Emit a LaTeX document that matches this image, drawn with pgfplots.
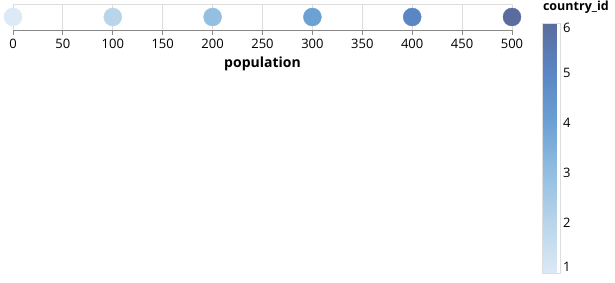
\documentclass[border=0pt]{standalone}
\usepackage{pgfplots}
\pgfplotsset{compat=1.18}
\usepackage{fontspec}
\setmainfont{Open Sans}
\definecolor{gridc}{RGB}{221,221,221}
\definecolor{axisc}{RGB}{136,136,136}
\begin{document}
\begin{tikzpicture}[x=1pt,y=1pt]
\useasboundingbox (0,0) rectangle (615,283);
\begin{axis}[
  at={(13pt,253pt)}, anchor=south west,
  scale only axis, width=499pt, height=26pt,
  xmin=0, xmax=500, ymin=0, ymax=1,
  clip=false,
  axis x line*=bottom, axis y line=none,
  xtick={0,50,...,500}, ytick=\empty,
  xmajorgrids, grid style={gridc, line width=0.8pt},
  axis line style={axisc, line width=0.8pt},
  tick style={axisc, line width=0.8pt},
  tick align=outside, major tick length=5pt,
  /pgf/number format/assume math mode=true,
  tick label style={font=\fontsize{13}{15}\selectfont},
  xticklabel style={yshift=-1pt},
  xlabel={population},
  xlabel style={font=\fontsize{14}{16}\selectfont\bfseries, yshift=-1pt},
  colormap={vegablues}{rgb255(0)=(220,233,246) rgb255(1)=(185,213,234) rgb255(2)=(147,191,225) rgb255(3)=(108,161,212) rgb255(4)=(91,134,196) rgb255(5)=(90,108,158)},
  point meta min=1, point meta max=6,
  colorbar,
  colorbar style={
    at={(parent axis.north east)}, anchor=north west,
    xshift=22pt, yshift=-19pt,
    scale only axis, width=18pt, height=250pt,
    ytick={1,2,3,4,5,6},
    yticklabels={\raisebox{6pt}[\height][\depth]{1},2,3,4,5,\raisebox{-5pt}[\height][\depth]{6}},
    major tick length=0pt,
    axis line style={gridc, line width=0.5pt},
    yticklabel style={font=\fontsize{13}{15}\selectfont, xshift=-1pt},
    title={country\_id},
    title style={font=\fontsize{12.5}{15}\selectfont\bfseries, at={(0,1)}, anchor=south west, xshift=-3pt, yshift=0pt},
  },
]
\draw[gridc, line width=0.8pt] (axis cs:0,1) -- (axis cs:500,1);
\addplot[scatter, only marks, mark=*, mark size=9pt, scatter src=explicit,
  mark options={draw=none},
  scatter/use mapped color={draw=mapped color, fill=mapped color}]
  coordinates {(0,0.5) [1] (100,0.5) [2] (200,0.5) [3] (300,0.5) [4] (400,0.5) [5] (500,0.5) [6]};
\end{axis}
\end{tikzpicture}
\end{document}
